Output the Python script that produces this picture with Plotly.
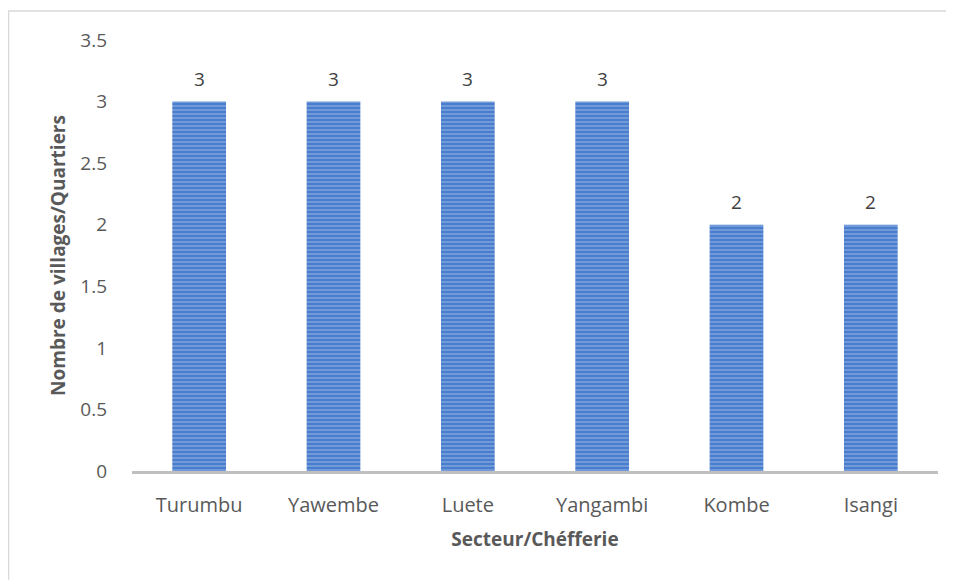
import plotly.graph_objects as go

categories = ["Turumbu", "Yawembe", "Luete", "Yangambi", "Kombe", "Isangi"]
values = [3, 3, 3, 3, 2, 2]
y_ticks = [0, 0.5, 1, 1.5, 2, 2.5, 3, 3.5]
y_tick_labels = ["0", "0.5", "1", "1.5", "2", "2.5", "3", "3.5"]

# page has an 8px body margin, so the figure is drawn 8px smaller and offset
W, H = 946, 572
ml, mr, mt, mb = 124, 16, 32, 109
pw, ph = W - ml - mr, H - mt - mb

FONT = "Open Sans"
GREY = "#595959"

fig = go.Figure()
fig.add_trace(go.Bar(
    x=categories, y=values,
    marker=dict(color="#4a7dcc", line=dict(width=0),
                pattern=dict(shape="-", fgcolor="#b9d0f2", bgcolor="#4a7dcc", size=4, solidity=0.35)),
    hoverinfo="x+y",
))

for c, v in zip(categories, values):
    fig.add_annotation(x=c, y=v, text=str(v), showarrow=False, yanchor="bottom",
                       yshift=8, font=dict(size=19, color="#404040", family=FONT))

def px_x(p):
    return (p - ml) / pw

def px_y(p):
    return (H - mb - p) / ph

fig.update_layout(
    width=W, height=H,
    margin=dict(l=ml, r=mr, t=mt, b=mb),
    paper_bgcolor="white", plot_bgcolor="white",
    bargap=0.6, showlegend=False,
    font=dict(family=FONT, color=GREY, size=20),
    xaxis=dict(showgrid=False, showline=True, linecolor="#bfbfbf", linewidth=3,
               ticks="", ticklabelstandoff=14, tickfont=dict(size=20, color=GREY),
               title=dict(text="<b>Secteur/Chéfferie</b>", font=dict(size=19, color=GREY), standoff=16)),
    yaxis=dict(range=[0, 3.5], tickvals=y_ticks, ticktext=y_tick_labels, showgrid=False,
               zeroline=False, showline=False, ticks="", ticklabelstandoff=24,
               tickfont=dict(size=19, color=GREY),
               title=dict(text="<b>Nombre de villages/Quartiers</b>", font=dict(size=19, color=GREY), standoff=9)),
    shapes=[dict(type="rect", xref="paper", yref="paper",
                 x0=px_x(0.5), x1=px_x(980), y0=px_y(600), y1=px_y(3),
                 line=dict(color="#d9d9d9", width=1.5), fillcolor="rgba(0,0,0,0)", layer="below")],
)

fig.write_html("out.html")
